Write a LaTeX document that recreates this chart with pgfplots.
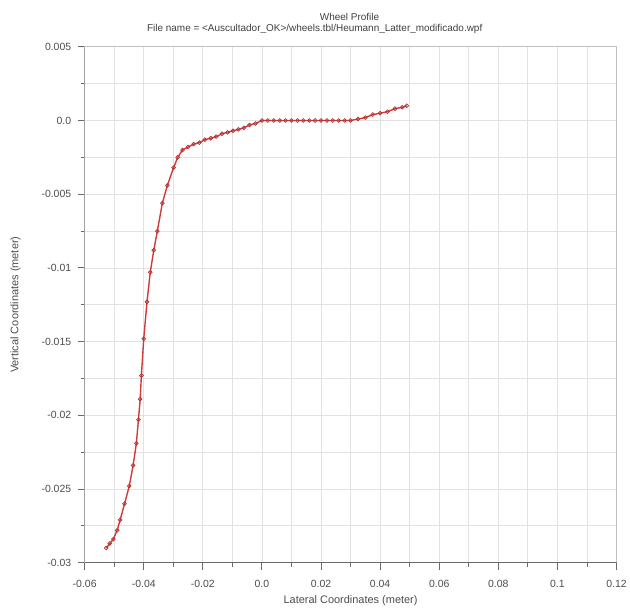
\documentclass[border=0pt]{standalone}
\usepackage{fontspec}
\setmainfont{Liberation Sans}
\usepackage{pgfplots}
\pgfplotsset{compat=1.18}
\definecolor{profred}{HTML}{D03A3A}
\definecolor{axisdark}{HTML}{6A6A6A}
\definecolor{gridgray}{HTML}{E2E2E2}

\begin{document}
\begin{tikzpicture}
\begin{axis}[
  scale only axis, width=534pt, height=518pt,
  xmin=-0.06, xmax=0.12, ymin=-0.03, ymax=0.005,
  xtick={-0.06,-0.04,-0.02,0,0.02,0.04,0.06,0.08,0.1,0.12},
  xticklabels={-0.06,-0.04,-0.02,0.0,0.02,0.04,0.06,0.08,0.1,0.12},
  ytick={-0.03,-0.025,-0.02,-0.015,-0.01,-0.005,0,0.005},
  yticklabels={-0.03,-0.025,-0.02,-0.015,-0.01,-0.005,0.0,0.005},
  scaled ticks=false,
  minor x tick num=1, minor y tick num=1,
  grid=both, major grid style={gridgray, line width=0.8pt},
  minor grid style={gridgray, line width=0.8pt},
  tick align=outside, xtick pos=left, ytick pos=left,
  major tick length=7pt, minor tick length=4pt,
  tick style={axisdark, line width=0.9pt},
  axis line style={black!25, line width=1.2pt},
  ticklabel style={font=\fontsize{10.5}{12}\selectfont, text=black!70},
  xticklabel style={yshift=-7pt},
  yticklabel style={xshift=-3pt},
  /pgf/number format/assume math mode=true,
  xlabel={Lateral Coordinates (meter)},
  ylabel={Vertical Coordinates (meter)},
  label style={font=\fontsize{11}{13}\selectfont, text=black!70},
  xlabel style={yshift=-1pt},
  ylabel style={yshift=14pt},
]
\addplot[profred, line width=1.4pt, mark=o, mark size=1.9pt, mark options={profred!85!black, line width=0.7pt}] coordinates {
(-0.0527,-0.0290) (-0.0515,-0.0287) (-0.0503,-0.0284) (-0.0490,-0.0278)
(-0.0480,-0.0271) (-0.0465,-0.0260) (-0.0449,-0.0248) (-0.0436,-0.0234)
(-0.0425,-0.0219) (-0.0418,-0.0203) (-0.0412,-0.0189) (-0.0408,-0.0173)
(-0.0400,-0.0148) (-0.0389,-0.0123) (-0.0378,-0.0103) (-0.0366,-0.0088)
(-0.0354,-0.0075) (-0.0337,-0.0056) (-0.0320,-0.0044) (-0.0299,-0.0032)
(-0.0285,-0.0025) (-0.0269,-0.0020) (-0.0250,-0.0018) (-0.0231,-0.0016)
(-0.0212,-0.0015) (-0.0193,-0.0013) (-0.0173,-0.0012) (-0.0155,-0.0011)
(-0.0135,-0.0009) (-0.0116,-0.0008) (-0.0098,-0.0007) (-0.0080,-0.0006)
(-0.0061,-0.0005) (-0.0042,-0.0003) (-0.0022,-0.0002) (0.0,0.0)
(0.002,0.0) (0.004,0.0) (0.006,0.0) (0.008,0.0) (0.010,0.0) (0.012,0.0)
(0.014,0.0) (0.016,0.0) (0.018,0.0) (0.020,0.0) (0.022,0.0) (0.024,0.0)
(0.026,0.0) (0.028,0.0) (0.030,0.0)
(0.0325,0.0001) (0.035,0.0002) (0.0375,0.0004) (0.040,0.0005)
(0.0425,0.0006) (0.045,0.0008) (0.0475,0.0009) (0.0490,0.0010)
};
\draw[axisdark, line width=1.4pt] (rel axis cs:0,1) -- (rel axis cs:0,0) -- (rel axis cs:1,0);
\end{axis}
\path (current axis.south west) ++(-85pt,-41pt) coordinate (bl) rectangle ++(630pt,606pt) coordinate (tr);
\node[font=\fontsize{10}{12}\selectfont, text=black!75] at ([xshift=351pt,yshift=-17pt] bl |- tr) {Wheel Profile};
\node[font=\fontsize{10}{12}\selectfont, text=black!75] at ([xshift=316pt,yshift=-29pt] bl |- tr) {File name = <Auscultador\_OK>/wheels.tbl/Heumann\_Latter\_modificado.wpf};
\end{tikzpicture}
\end{document}
